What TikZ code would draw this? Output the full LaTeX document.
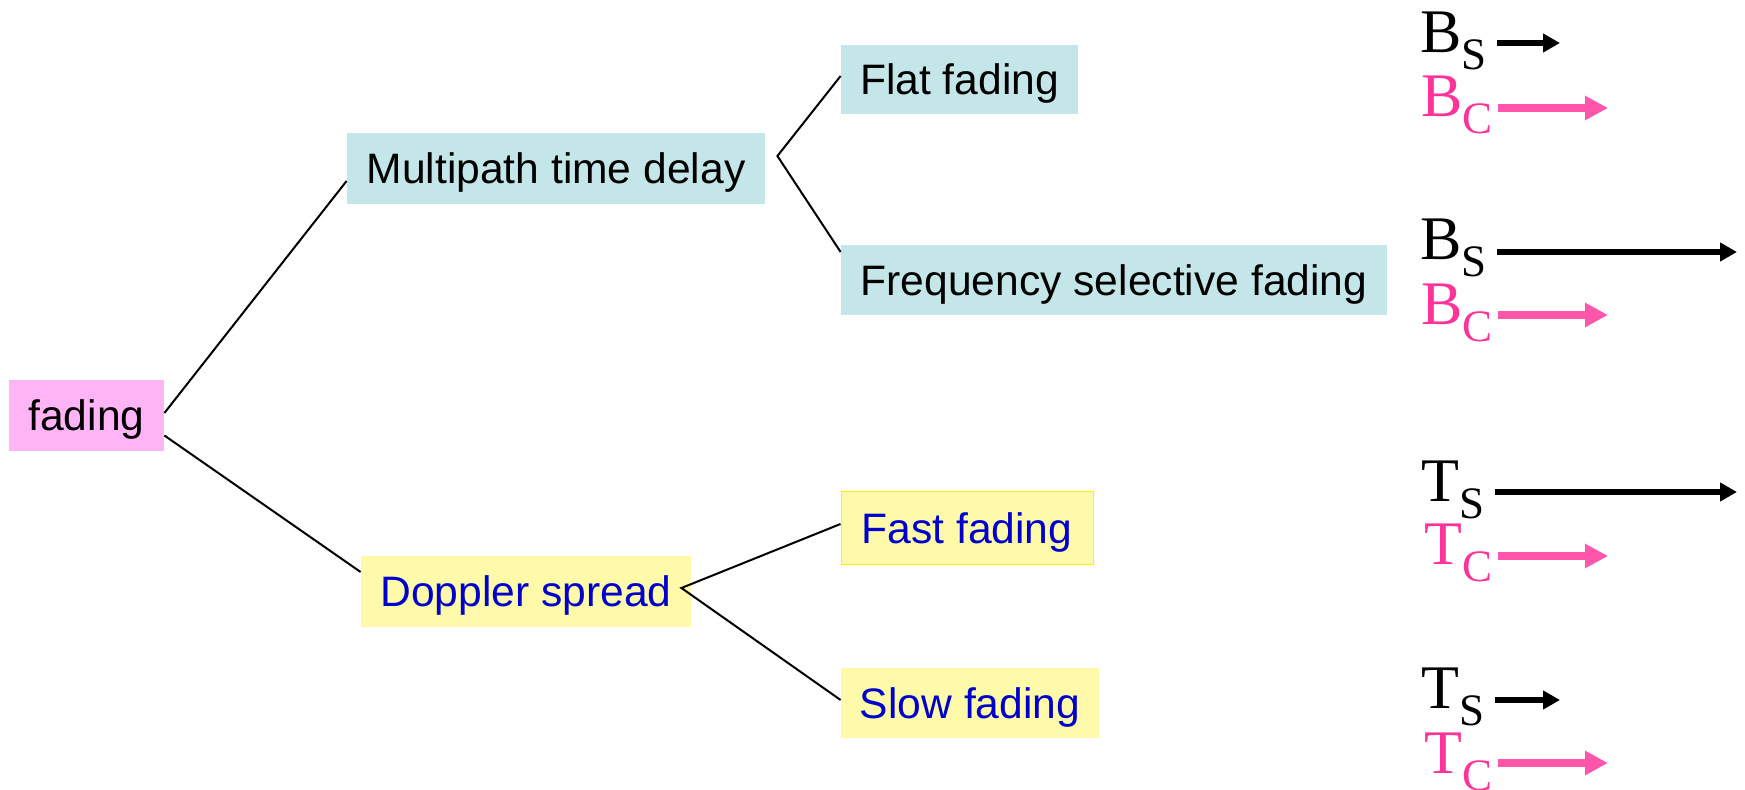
\documentclass[tikz,border=0pt]{standalone}
\usepackage{fontspec}
\setmainfont{Liberation Sans}
\newfontfamily\timesrm{Liberation Serif}
\usepackage{tikz}
\usetikzlibrary{calc,arrows.meta}

% letter with a lowered subscript, Times style
\newcommand{\symb}[2]{\timesrm{\fontsize{31}{31}\selectfont #1}\raisebox{-8.5pt}{\fontsize{22.5}{22.5}\selectfont #2}}

\begin{document}
\begin{tikzpicture}[x=0.5pt,y=-0.5pt,
    box/.style={inner sep=0pt, text height=15.2pt, text depth=0pt, minimum height=35.5pt,
                font=\fontsize{21.3}{25}\selectfont},
    link/.style={line width=1pt},
    lbl/.style={inner sep=0pt, anchor=base west},
    blkarrow/.style={line width=3pt, shorten <=5pt, -{Triangle[length=8.5pt,width=9pt]}},
    pinkarrow/.style={draw=arrowpink, line width=4pt, shorten <=2.5pt, -{Triangle[length=11.5pt,width=11.5pt]}}]
    % Define colors
    \definecolor{rootpink}{RGB}{255,180,245}
    \definecolor{delaycyan}{RGB}{196,230,232}
    \definecolor{dopyellow}{RGB}{255,250,170}
    \definecolor{dopblue}{RGB}{0,0,204}
    \definecolor{labelpink}{RGB}{255,51,153}
    \definecolor{arrowpink}{RGB}{255,85,170}

    \useasboundingbox (0,0) rectangle (1745,790);

    % Tree boxes
    \node[box, fill=rootpink, minimum width=77.5pt] (fading) at (86.5,415.5) {fading};
    \node[box, fill=delaycyan, minimum width=209pt] (multi) at (556,168.5) {Multipath time delay};
    \node[box, fill=delaycyan, minimum width=118.5pt, minimum height=34.5pt] (flat) at (959.5,79.5) {Flat fading};
    \node[box, fill=delaycyan, minimum width=273pt, minimum height=35pt] (freq) at (1114,280) {Frequency selective fading};
    \node[box, fill=dopyellow, text=dopblue, minimum width=165pt] (doppler) at (526,591.5) {Doppler spread};
    \node[box, fill=dopyellow, draw=yellow, line width=0.5pt, text=dopblue, minimum width=126pt,
          minimum height=36.5pt] (fast) at (967,528.5) {Fast fading};
    \node[box, fill=dopyellow, text=dopblue, minimum width=129pt, minimum height=35pt] (slow) at (970,703) {Slow fading};

    % Branch points
    \coordinate (mtip) at ([xshift=6pt,yshift=6.25pt]multi.east);
    \coordinate (dtip) at ([xshift=-5pt,yshift=1.75pt]doppler.east);

    % Connectors
    \draw[link] ([yshift=1.25pt]fading.east) -- ([yshift=-6.25pt]multi.west);
    \draw[link] ([yshift=-10pt]fading.east) -- ([yshift=9.75pt]doppler.west);
    \draw[link] ([yshift=1.75pt]flat.west) -- (mtip) -- ([yshift=14pt]freq.west);
    \draw[link] ([yshift=2.25pt]fast.west) -- (dtip) -- ([yshift=1.5pt]slow.west);

    % Flat fading: B_S short, B_C long
    \node[lbl] (bs1) at (1420,53) {\symb{B}{S}};
    \node[lbl, text=labelpink] (bc1) at (1421,117) {\symb{B}{C}};
    \coordinate (bs1t) at (1560,43);
    \coordinate (bc1t) at (1608,108);
    \draw[blkarrow] (bs1.east |- bs1t) -- (bs1t);
    \draw[pinkarrow] (bc1.east |- bc1t) -- (bc1t);

    % Frequency selective: B_S long, B_C short
    \node[lbl] (bs2) at (1420,260) {\symb{B}{S}};
    \node[lbl, text=labelpink] (bc2) at (1421,325) {\symb{B}{C}};
    \coordinate (bs2t) at (1737,252);
    \coordinate (bc2t) at (1608,315);
    \draw[blkarrow] (bs2.east |- bs2t) -- (bs2t);
    \draw[pinkarrow] (bc2.east |- bc2t) -- (bc2t);

    % Fast fading: T_S long, T_C short
    \node[lbl] (ts3) at (1421,502) {\symb{T}{S}};
    \node[lbl, text=labelpink] (tc3) at (1424,565) {\symb{T}{C}};
    \coordinate (ts3t) at (1737,492);
    \coordinate (tc3t) at (1608,556);
    \draw[blkarrow] (ts3.east |- ts3t) -- (ts3t);
    \draw[pinkarrow] (tc3.east |- tc3t) -- (tc3t);

    % Slow fading: T_S short, T_C long
    \node[lbl] (ts4) at (1421,708) {\symb{T}{S}};
    \node[lbl, text=labelpink] (tc4) at (1424,773) {\symb{T}{C}};
    \coordinate (ts4t) at (1560,700);
    \coordinate (tc4t) at (1608,763);
    \draw[blkarrow] (ts4.east |- ts4t) -- (ts4t);
    \draw[pinkarrow] (tc4.east |- tc4t) -- (tc4t);

\end{tikzpicture}
\end{document}
